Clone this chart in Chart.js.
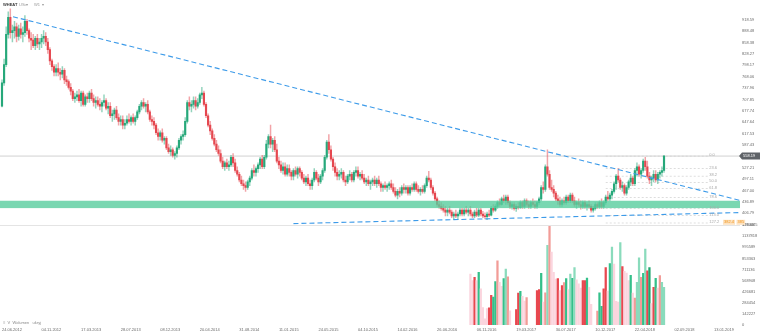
<!DOCTYPE html>
<html><head><meta charset="utf-8">
<script src="https://cdn.jsdelivr.net/npm/chart.js@4.4.0/dist/chart.umd.min.js"></script>
<style>html,body{margin:0;padding:0;background:#fff;overflow:hidden}canvas{display:block}</style>
</head><body>
<canvas id="c" width="760" height="334"></canvas>
<script>
// ---------- DATA (weekly candles, week 0 = 24.06.2012) ----------
const instrument = 'WHEAT';
const opens = [
690,752,800,880,925,885,890,900,875,895,
880,885,915,890,870,865,850,870,855,860,
870,875,860,840,810,795,780,790,780,775,
785,760,755,740,730,710,715,720,705,725,
695,715,710,725,710,700,705,695,690,700,
705,685,690,665,670,680,660,650,655,640,
645,655,650,660,650,660,675,690,700,690,
695,675,655,650,640,620,610,620,600,605,
580,570,575,560,565,580,600,610,615,650,
700,690,695,705,690,700,720,725,695,665,
640,625,605,590,575,565,545,530,540,530,
535,555,540,520,510,495,485,480,475,490,
500,520,515,525,535,550,530,555,590,610,
590,600,575,545,535,520,530,510,525,515,
505,520,510,525,515,500,490,500,485,480,
495,515,500,490,505,520,555,595,575,550,
530,515,505,510,515,495,490,505,510,495,
515,520,505,510,500,490,495,485,490,495,
485,495,485,475,480,475,480,485,475,465,
455,465,460,475,470,475,460,475,470,485,
470,465,470,465,480,500,495,475,460,445,
430,425,420,415,410,415,410,400,405,400,
405,415,405,415,410,415,405,400,410,402,
415,405,400,398,405,402,420,415,425,435,
430,445,440,450,435,425,430,420,425,422,
435,425,440,430,425,435,430,425,435,445,
475,470,530,510,475,470,460,445,440,430,
440,435,450,440,455,440,430,435,430,425,
435,425,430,425,415,420,430,425,435,425,
435,450,445,455,465,485,505,495,475,480,
460,475,490,500,485,520,530,510,520,545,
530,505,495,500,510,495,510,515,520];
const highs = [
760,815,900,940,948,905,915,910,905,910,
900,930,920,895,885,880,875,880,870,880,
890,885,870,845,815,800,800,805,790,795,
790,770,760,750,735,725,730,735,730,730,
720,725,730,735,720,715,715,710,705,720,
710,700,700,680,685,690,670,665,665,655,
665,670,665,670,665,680,695,705,710,700,
705,680,665,660,645,630,625,630,610,610,
590,585,580,570,585,605,615,625,660,705,
715,705,715,715,710,725,740,730,700,670,
650,630,615,600,585,575,555,545,550,545,
560,565,550,530,515,505,495,490,495,505,
525,535,530,540,555,560,560,600,615,640,
605,610,590,555,545,540,540,535,535,520,
525,530,530,530,520,510,505,510,495,500,
525,520,510,510,525,560,600,615,585,555,
540,525,520,525,520,505,510,520,515,520,
530,530,515,520,510,500,505,495,500,505,
500,505,490,485,490,485,490,495,485,475,
470,475,480,485,480,480,480,485,490,490,
480,475,480,485,505,518,500,480,465,450,
440,435,430,425,420,425,415,410,415,410,
420,420,420,425,420,425,410,415,420,420,
420,412,408,410,415,425,430,430,440,445,
450,455,455,455,440,435,435,430,435,440,
440,445,445,440,440,445,440,440,450,480,
490,535,575,520,495,480,465,455,450,445,
450,455,455,460,460,450,440,445,440,440,
440,435,440,430,425,435,435,440,445,440,
455,465,460,470,490,510,525,500,490,485,
480,495,510,505,525,540,535,525,550,555,
545,515,505,520,520,515,520,530,560];
const lows = [
688,745,795,870,870,860,870,860,865,870,
860,875,880,860,840,845,840,845,840,845,
855,850,830,800,785,770,770,770,760,765,
750,745,735,720,705,700,705,700,690,690,
690,700,700,705,690,685,690,680,675,690,
680,670,660,650,655,655,640,640,630,630,
640,645,640,645,640,655,670,680,685,675,
670,650,640,630,615,600,600,595,590,575,
565,560,555,550,555,575,590,600,610,645,
680,675,685,680,685,695,710,690,660,635,
615,600,585,570,560,540,525,520,525,520,
530,530,515,505,490,480,470,465,470,480,
495,505,505,515,525,525,525,550,580,580,
570,570,540,525,515,510,505,505,505,495,
495,505,500,505,495,485,480,480,470,470,
490,495,480,485,495,515,550,565,545,520,
505,495,495,500,490,480,485,495,490,490,
505,500,495,495,485,480,480,470,480,480,
475,480,465,465,470,465,470,470,460,450,
445,450,455,460,460,455,455,465,465,465,
460,455,460,460,475,490,470,455,440,425,
420,415,410,400,400,405,395,390,395,390,
400,400,400,405,400,400,395,395,398,398,
400,395,392,390,398,400,410,412,420,425,
428,435,430,430,420,418,415,412,418,420,
420,420,425,420,420,425,420,420,430,440,
460,465,505,470,465,450,440,430,425,425,
430,430,435,435,435,425,420,425,418,420,
420,415,420,410,410,415,420,420,420,420,
430,440,440,445,460,470,490,470,465,455,
455,470,480,480,480,505,505,500,515,520,
500,485,480,490,490,485,500,505,515];
const closes = [
752,800,880,925,885,890,900,875,895,880,
885,915,890,870,865,850,870,855,860,870,
875,860,840,810,795,780,790,780,775,785,
760,755,740,730,710,715,720,705,725,695,
715,710,725,710,700,705,695,690,700,705,
685,690,665,670,680,660,650,655,640,645,
655,650,660,650,660,675,690,700,690,695,
675,655,650,640,620,610,620,600,605,580,
570,575,560,565,580,600,610,615,650,700,
690,695,705,690,700,720,725,695,665,640,
625,605,590,575,565,545,530,540,530,535,
555,540,520,510,495,485,480,475,490,500,
520,515,525,535,550,530,555,590,610,590,
600,575,545,535,520,530,510,525,515,505,
520,510,525,515,500,490,500,485,480,495,
515,500,490,505,520,555,595,575,550,530,
515,505,510,515,495,490,505,510,495,515,
520,505,510,500,490,495,485,490,495,485,
495,485,475,480,475,480,485,475,465,455,
465,460,475,470,475,460,475,470,485,470,
465,470,465,480,500,495,475,460,445,430,
425,420,415,410,415,410,400,405,400,405,
415,405,415,410,415,405,400,410,402,415,
405,400,398,405,402,420,415,425,435,430,
445,440,450,435,425,430,420,425,422,435,
425,440,430,425,435,430,425,435,445,475,
470,530,510,475,470,460,445,440,430,440,
435,450,440,455,440,430,435,430,425,435,
425,430,425,415,420,430,425,435,425,435,
450,445,455,465,485,505,495,475,480,460,
475,490,500,485,520,530,510,520,545,530,
505,495,500,510,495,510,515,520,558.19];

// volume (only available from week 225 on)
const volumeFirstWeek = 225;
const volumes = [
653000,569000,611000,569000,674000,464000,223000,80000,211000,219000,
379000,358000,556000,822000,548000,497000,594000,716000,619000,181000,
null,null,198000,409000,430000,367000,308000,350000,null,null,
null,null,442000,455000,662000,295000,413000,1020000,1264000,935000,
674000,590000,594000,442000,506000,544000,594000,455000,653000,598000,
737000,578000,527000,472000,569000,569000,603000,484000,265000,null,
null,177000,413000,240000,464000,737000,434000,788000,999000,780000,
303000,295000,1058000,750000,687000,666000,569000,636000,409000,345000,
548000,860000,611000,662000,973000,695000,737000,274000,484000,598000,
472000,632000,548000,484000];

// axis ticks
const priceTicks = [918.59,888.48,858.38,828.27,798.17,768.06,737.96,707.85,677.74,647.64,617.53,587.43,557.32,527.21,497.11,467.00,436.89,406.79,376.68];
const volumeTicks = [0,142227,284454,426681,568908,711136,853363,995589,1137818,1280045];
const dateTickWeeks = [0,19,38,57,76,95,114,133,152,171,190,209,228,247,266,285,304,323,342];
const dateLabels = ['24.06.2012','04.11.2012','17.03.2013','28.07.2013','08.12.2013','20.04.2014','31.08.2014','11.01.2015','24.05.2015','04.10.2015','14.02.2016','26.06.2016','06.11.2016','19.03.2017','30.07.2017','10.12.2017','22.04.2018','02.09.2018','13.01.2019'];

// drawings (in data units: week index / price)
const lastPrice = 558.19;
const supportZone = [420.5, 440];
const upperTrend = [[5.3, 927], [354.5, 441]];
const lowerTrend = [[140, 379.5], [354.5, 408.8]];
const fibHigh = 558.19, fibLow = 419;
const fibLevels = [0, 23.6, 38.2, 50.0, 61.8, 78.6, 100.0, 113.0, 127.2];
const fibWeeks = [290, 339];
const orangeTags = ['382.4', '385'];

if (new Set([opens.length, highs.length, lows.length, closes.length]).size !== 1) throw new Error('length mismatch');

// ---------- STYLE ----------
const FONT = '"Liberation Sans", Arial, sans-serif';
const UP = '#26a87a', DOWN = '#e5474f';
const UP_WICK = 'rgba(38,168,122,0.5)', DOWN_WICK = 'rgba(229,71,79,0.5)';
const volumeTone = 'pprpgpppprrggsppglsp--rrgpps----rrgpslsppprprsgplglppprrgpp--sggrrpglppplrpppgpsllsglrdprgpsll';
const toneColor = {p:'#fbd5de', r:'#e8474f', s:'#f29c97', g:'#34c08a', l:'#8adbbc', d:'#1ea66e'};

const weeks = closes.map((_, i) => i);
const wickData = weeks.map(i => ({x: i, y: [lows[i], highs[i]]}));
const bodyData = weeks.map(i => ({x: i, y: [opens[i], closes[i]]}));
const volData = [], volColors = [];
volumes.forEach((v, k) => { if (v !== null) { volData.push({x: volumeFirstWeek + k, y: v}); volColors.push(toneColor[volumeTone[k]]); } });

Chart.defaults.font.family = FONT;
Chart.defaults.font.size = 4;

function text(ctx, s, x, y, color, font, align) {
  ctx.save(); ctx.font = font || ('4px ' + FONT); ctx.fillStyle = color; ctx.textBaseline = 'middle'; ctx.textAlign = align || 'left';
  ctx.fillText(s, x, y); ctx.restore();
}

const overlay = {
  id: 'overlay',
  beforeDatasetsDraw(chart) {
    const {ctx, chartArea: ca, scales: {x, y, yv}} = chart;
    ctx.save();
    ctx.strokeStyle = '#e4e4e4'; ctx.lineWidth = 1;
    ctx.beginPath(); ctx.moveTo(ca.left, Math.round(yv.top) + 0.5); ctx.lineTo(ca.right, Math.round(yv.top) + 0.5); ctx.stroke();
    const yp = y.getPixelForValue(lastPrice);
    ctx.strokeStyle = '#c4c4c4'; ctx.lineWidth = 0.8;
    ctx.beginPath(); ctx.moveTo(ca.left, yp); ctx.lineTo(ca.right, yp); ctx.stroke();
    const x0 = x.getPixelForValue(fibWeeks[0]), x1 = x.getPixelForValue(fibWeeks[1]);
    ctx.strokeStyle = '#cfcfcf'; ctx.lineWidth = 0.7; ctx.setLineDash([2, 2]);
    fibLevels.forEach(l => {
      const py = y.getPixelForValue(fibHigh - (fibHigh - fibLow) * l / 100);
      ctx.beginPath(); ctx.moveTo(x0, py); ctx.lineTo(x1, py); ctx.stroke();
    });
    ctx.restore();
  },
  afterDatasetsDraw(chart) {
    const {ctx, chartArea: ca, scales: {x, y, yv}} = chart;
    ctx.save();
    const z0 = y.getPixelForValue(supportZone[1]), z1 = y.getPixelForValue(supportZone[0]);
    ctx.fillStyle = 'rgba(88,205,158,0.8)';
    ctx.fillRect(ca.left, z0, ca.right - ca.left, z1 - z0);
    ctx.save();
    ctx.beginPath(); ctx.rect(ca.left, ca.top, ca.right - ca.left, y.bottom - ca.top); ctx.clip();
    ctx.strokeStyle = '#3d9be9'; ctx.lineWidth = 1.1; ctx.setLineDash([5, 3]);
    [upperTrend, lowerTrend].forEach(t => {
      ctx.beginPath();
      ctx.moveTo(x.getPixelForValue(t[0][0]), y.getPixelForValue(t[0][1]));
      ctx.lineTo(x.getPixelForValue(t[1][0]), y.getPixelForValue(t[1][1]));
      ctx.stroke();
    });
    ctx.restore();
    const x1 = x.getPixelForValue(fibWeeks[1]);
    fibLevels.forEach(l => {
      const py = y.getPixelForValue(fibHigh - (fibHigh - fibLow) * l / 100);
      text(ctx, l.toFixed(1), x1 + 1.5, py - 1, '#a8a8a8');
    });
    const yo = y.getPixelForValue(383);
    ctx.font = '4px ' + FONT;
    let ox = ca.right - 17;
    orangeTags.forEach(s => {
      const w = ctx.measureText(s).width + 2;
      ctx.fillStyle = '#fde2c0'; ctx.fillRect(ox, yo - 2.5, w, 5);
      text(ctx, s, ox + 1, yo, '#f0961e');
      ox += w + 1.5;
    });
    const yp = y.getPixelForValue(lastPrice);
    ctx.fillStyle = '#5f6368';
    ctx.beginPath();
    ctx.moveTo(ca.right - 1, yp); ctx.lineTo(ca.right + 2, yp - 3.5); ctx.lineTo(760, yp - 3.5);
    ctx.lineTo(760, yp + 3.5); ctx.lineTo(ca.right + 2, yp + 3.5); ctx.closePath(); ctx.fill();
    text(ctx, lastPrice.toFixed(2), ca.right + 3, yp, '#ffffff');
    text(ctx, instrument, 3, 5, '#3c3c3c', 'bold 4px ' + FONT);
    text(ctx, 'USc', 19, 5, '#9a9a9a');
    text(ctx, '\u25BE', 26, 5, '#9a9a9a');
    text(ctx, 'W1', 34, 5, '#9a9a9a');
    text(ctx, '\u25BE', 42, 5, '#9a9a9a');
    text(ctx, '\u2261  V  Wolumen   ukryj', 3, 322.5, '#8a8a8a');
    ctx.restore();
  }
};

const noGrid = {display: false, drawTicks: false};
new Chart(document.getElementById('c'), {
  type: 'bar',
  data: {
    datasets: [
      {label: 'bodies', data: bodyData, yAxisID: 'y', xAxisID: 'x', order: 0, grouped: false, barThickness: 1.5,
       backgroundColor: c => (closes[c.dataIndex] >= opens[c.dataIndex] ? UP : DOWN)},
      {label: 'wicks', data: wickData, yAxisID: 'y', xAxisID: 'x', order: 1, grouped: false, barThickness: 0.8,
       backgroundColor: c => (closes[c.dataIndex] >= opens[c.dataIndex] ? UP_WICK : DOWN_WICK)},
      {label: 'volume', data: volData, yAxisID: 'yv', xAxisID: 'x', order: 2, grouped: false, barThickness: 1.6,
       backgroundColor: volColors}
    ]
  },
  options: {
    responsive: false, animation: false, devicePixelRatio: 1,
    layout: {padding: 0},
    plugins: {legend: {display: false}, tooltip: {enabled: false}},
    scales: {
      x: {type: 'linear', min: -0.96, max: 354.5, offset: false, grid: noGrid, border: {display: false},
          afterBuildTicks: s => { s.ticks = dateTickWeeks.map(v => ({value: v})); },
          afterFit: s => { s.height = 9; },
          ticks: {autoSkip: false, maxRotation: 0, minRotation: 0, align: 'start', padding: 2, color: '#6a6a6a',
                  font: {size: 4}, callback: (v, i) => dateLabels[i]}},
      y: {type: 'linear', position: 'right', stack: 'panels', stackWeight: 223.3, min: 376.68, max: 959.5,
          grid: noGrid, border: {display: false},
          afterBuildTicks: s => { s.ticks = priceTicks.map(v => ({value: v})); },
          afterFit: s => { s.width = 20; },
          ticks: {autoSkip: false, crossAlign: 'near', padding: 2, color: '#6a6a6a', font: {size: 4}, callback: v => v.toFixed(2)}},
      yv: {type: 'linear', position: 'right', stack: 'panels', stackWeight: 101.7, min: 0, max: 1286000,
          grid: noGrid, border: {display: false},
          afterBuildTicks: s => { s.ticks = volumeTicks.map(v => ({value: v})); },
          afterFit: s => { s.width = 20; },
          ticks: {autoSkip: false, crossAlign: 'near', padding: 2, color: '#6a6a6a', font: {size: 4}, callback: v => String(v)}}
    }
  },
  plugins: [overlay]
});
</script>
</body></html>
